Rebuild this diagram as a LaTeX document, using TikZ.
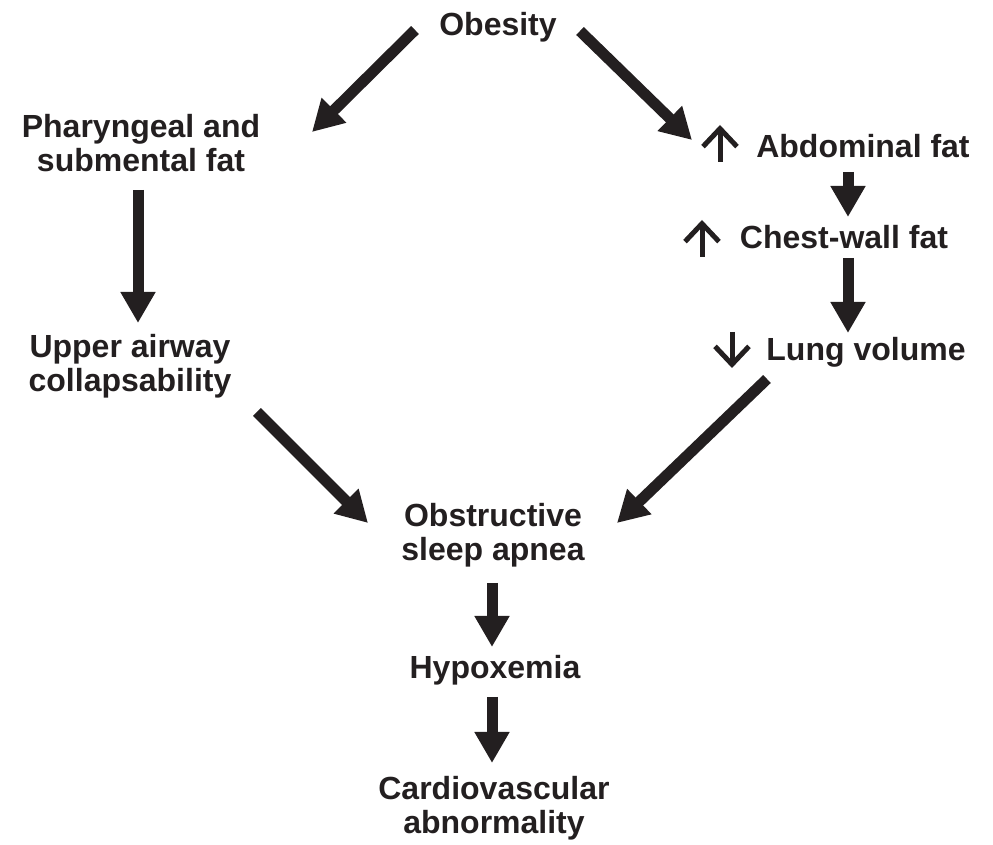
\documentclass[tikz,border=0pt]{standalone}
\usepackage{fontspec}
\setmainfont{Liberation Sans}
\usetikzlibrary{arrows.meta}
\definecolor{ink}{HTML}{231F20}
\begin{document}
\begin{tikzpicture}[x=0.5pt,y=-0.5pt,
  lbl/.style={font=\fontsize{16pt}{17pt}\selectfont\bfseries, text=ink, inner sep=0pt, align=center, anchor=base},
  fatarrow/.style={draw=ink, line width=5.5pt, -{Triangle[width=16.5pt,length=15.5pt]}},
  thinarrow/.style={draw=ink, line width=2.5pt, -{Straight Barb[width=17pt,length=9pt]}}]
\useasboundingbox (0,0) rectangle (993,845);
% labels (two-line nodes are placed at the baseline of their last line)
\node[lbl] (obesity) at (498,36) {Obesity};
\node[lbl] (phar) at (141,172) {Pharyngeal and\\submental fat};
\node[lbl] (uac) at (130,392) {Upper airway\\collapsability};
\node[lbl] (abd) at (863,158) {Abdominal fat};
\node[lbl] (chest) at (844,249) {Chest-wall fat};
\node[lbl] (lung) at (866,361) {Lung volume};
\node[lbl] (osa) at (493,561) {Obstructive\\sleep apnea};
\node[lbl] (hyp) at (495,679) {Hypoxemia};
\node[lbl] (cv) at (494,834) {Cardiovascular\\abnormality};
% arrow end points
\coordinate (oL) at (415,30);  \coordinate (pT) at (312,132);
\coordinate (oR) at (580,31);  \coordinate (aT) at (692,140);
\coordinate (pB) at (138,190); \coordinate (uT) at (138,323);
\coordinate (uB) at (257,412); \coordinate (osaL) at (368,523);
\coordinate (lB) at (767,379); \coordinate (osaR) at (617,523);
\coordinate (aB) at (848,172); \coordinate (cT) at (848,217);
\coordinate (cB) at (848,258); \coordinate (lT) at (848,333);
\coordinate (osaB) at (492,583); \coordinate (hT) at (492,647);
\coordinate (hB) at (492,697); \coordinate (cvT) at (492,763);
% small arrows
\coordinate (s1a) at (720,162); \coordinate (s1b) at (720,125);
\coordinate (s2a) at (702,257); \coordinate (s2b) at (702,220);
\coordinate (s3a) at (732,332); \coordinate (s3b) at (732,368);
% connectors
\draw[fatarrow] (oL) -- (pT);
\draw[fatarrow] (oR) -- (aT);
\draw[fatarrow] (pB) -- (uT);
\draw[fatarrow] (uB) -- (osaL);
\draw[fatarrow] (lB) -- (osaR);
\draw[fatarrow] (aB) -- (cT);
\draw[fatarrow] (cB) -- (lT);
\draw[fatarrow] (osaB) -- (hT);
\draw[fatarrow] (hB) -- (cvT);
\draw[thinarrow] (s1a) -- (s1b);
\draw[thinarrow] (s2a) -- (s2b);
\draw[thinarrow] (s3a) -- (s3b);
\end{tikzpicture}
\end{document}
